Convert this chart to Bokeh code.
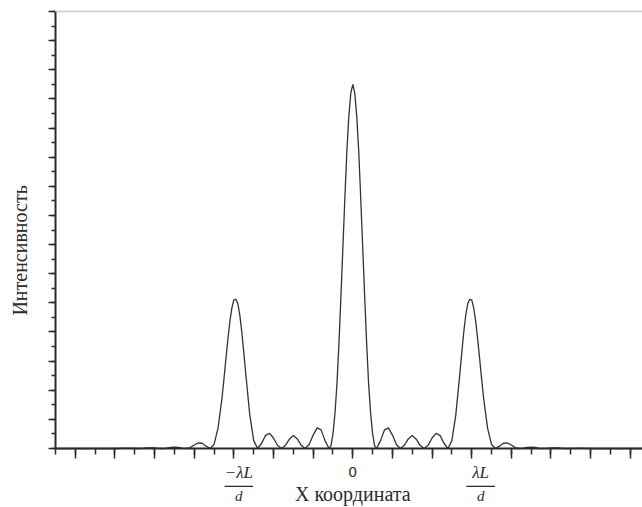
from bokeh.plotting import figure
from bokeh.models import (Range1d, SingleIntervalTicker, CustomJSTickFormatter,
                          Label, Arrow, ColumnDataSource)
from bokeh.embed import file_html
from bokeh.resources import INLINE
import math

# Intensity profile (x in units of lambda*L/(6d), y in y-axis major ticks)
x_coord = [-15.0, -12.0, -11.4, -10.8, -10.6, -10.4, -10.2, -10.0, -9.8, -9.6,
           -9.4, -9.2, -9.0, -8.8, -8.6, -8.4, -8.2, -8.0, -7.8, -7.6, -7.4,
           -7.2, -7.0, -6.8, -6.6, -6.5, -6.4, -6.3, -6.2, -6.1, -6.0, -5.9,
           -5.8, -5.7, -5.6, -5.5, -5.4, -5.2, -5.0, -4.8, -4.6, -4.4, -4.2,
           -4.0, -3.8, -3.6, -3.4, -3.2, -3.0, -2.8, -2.6, -2.4, -2.2, -2.0,
           -1.8, -1.6, -1.4, -1.2, -1.1, -1.0, -0.9, -0.8, -0.7, -0.6, -0.5,
           -0.4, -0.3, -0.2, -0.1, 0.0,
           0.1, 0.2, 0.3, 0.4, 0.5, 0.6, 0.7, 0.8, 0.9, 1.0, 1.1, 1.2, 1.4,
           1.6, 1.8, 2.0, 2.2, 2.4, 2.6, 2.8, 3.0, 3.2, 3.4, 3.6, 3.8, 4.0,
           4.2, 4.4, 4.6, 4.8, 5.0, 5.2, 5.4, 5.5, 5.6, 5.7, 5.8, 5.9, 6.0,
           6.1, 6.2, 6.3, 6.4, 6.5, 6.6, 6.8, 7.0, 7.2, 7.4, 7.6, 7.8, 8.0,
           8.2, 8.4, 8.6, 8.8, 9.0, 9.2, 9.4, 9.6, 9.8, 10.0, 10.2, 10.4,
           10.6, 10.8, 11.4, 12.0, 14.6]
intensity = [0.0, 0.0, 0.01, 0.0, 0.006, 0.02, 0.025, 0.02, 0.005, 0.0,
             0.01, 0.035, 0.045, 0.035, 0.01, 0.0, 0.03, 0.12, 0.19, 0.18, 0.08,
             0.0, 0.14, 0.7, 1.73, 2.39, 3.09, 3.76, 4.37, 4.83, 5.1, 5.12,
             4.97, 4.58, 4.0, 3.3, 2.56, 1.17, 0.27, 0.0, 0.18, 0.45, 0.52,
             0.36, 0.11, 0.0, 0.11, 0.32, 0.45, 0.33, 0.11, 0.0, 0.14, 0.46,
             0.71, 0.64, 0.27, 0.0, 0.1, 0.5, 1.2, 2.2, 3.6, 5.2, 6.9,
             8.6, 10.2, 11.4, 12.2, 12.5,
             12.2, 11.4, 10.2, 8.6, 6.9, 5.2, 3.6, 2.2, 1.2, 0.5, 0.1, 0.0, 0.27,
             0.64, 0.71, 0.46, 0.14, 0.0, 0.11, 0.33, 0.45, 0.32, 0.11, 0.0, 0.11, 0.36,
             0.52, 0.45, 0.18, 0.0, 0.27, 1.17, 2.56, 3.3, 4.0, 4.58, 4.97, 5.12, 5.1,
             4.83, 4.37, 3.76, 3.09, 2.39, 1.73, 0.7, 0.14, 0.0, 0.08, 0.18, 0.19, 0.12,
             0.03, 0.0, 0.01, 0.035, 0.045, 0.035, 0.01, 0.0, 0.005, 0.02, 0.025, 0.02,
             0.006, 0.0, 0.01, 0.0, 0.0]

x_label = "X координата"
y_label = "Интенсивность"
zero_label = "0"
frac_num_left = "−λL"
frac_num_right = "λL"
frac_den = "d"

# axis extents (data units)
x_min, x_max = -15.0, 14.62
y_min, y_max = 0.0, 15.0

ink = "#2b2b2b"
serif = "Liberation Serif"

# frame covers the whole canvas; axes are pinned inside it
p = figure(width=642, height=507, output_backend="svg", toolbar_location=None,
           x_range=Range1d(-17.775, 14.617), y_range=Range1d(-2.025, 15.378),
           min_border_left=0, min_border_right=0, min_border_top=0,
           min_border_bottom=0, background_fill_color="white",
           border_fill_color="white")
p.outline_line_color = None
p.xgrid.visible = False
p.ygrid.visible = False

src = ColumnDataSource(dict(x=x_coord, y=intensity))
p.line("x", "y", source=src, line_color="#333333", line_width=1.3)

# axes
p.xaxis.ticker = SingleIntervalTicker(interval=2, num_minor_ticks=2)
p.yaxis.ticker = SingleIntervalTicker(interval=1, num_minor_ticks=2)
p.xaxis.formatter = CustomJSTickFormatter(code="return Math.abs(tick) < 1e-9 ? '%s' : '';" % zero_label)
p.yaxis.formatter = CustomJSTickFormatter(code="return '';")
p.xaxis.fixed_location = y_min
p.yaxis.fixed_location = x_min
p.xaxis.bounds = (x_min, x_max)
p.yaxis.bounds = (y_min, y_max)
for ax in (p.xaxis[0], p.yaxis[0]):
    ax.axis_line_color = ink
    ax.axis_line_width = 2
    ax.major_tick_line_color = ink
    ax.minor_tick_line_color = ink
    ax.major_tick_line_width = 1.5
    ax.minor_tick_line_width = 1.5
    ax.major_tick_in = 0
    ax.minor_tick_in = 0
p.xaxis.major_tick_out = 10
p.xaxis.minor_tick_out = 6
p.yaxis.major_tick_out = 7
p.yaxis.minor_tick_out = 4
p.xaxis.major_label_text_font = "DejaVu Sans"
p.xaxis.major_label_text_font_size = "14px"
p.xaxis.major_label_text_color = ink
p.xaxis.major_label_standoff = 8

# top border (light grey)
p.add_layout(Arrow(start=None, end=None, x_start=x_min, x_end=x_max,
                   y_start=y_max, y_end=y_max, line_color="#c8c8c8", line_width=1.5))

# axis titles
p.add_layout(Label(x=-16.77, y=6.8, text=y_label, angle=math.pi / 2,
                   text_font=serif, text_font_size="20px", text_color=ink,
                   text_align="center", text_baseline="middle"))
p.add_layout(Label(x=0.0, y=-1.56, text=x_label, text_font=serif,
                   text_font_size="20px", text_color=ink,
                   text_align="center", text_baseline="middle"))

# fraction tick labels  -λL/d  and  λL/d
for cx, num in ((-5.75, frac_num_left), (6.45, frac_num_right)):
    p.add_layout(Label(x=cx, y=-0.83, text=num, text_font=serif,
                       text_font_style="italic", text_font_size="17px",
                       text_color=ink, text_align="center",
                       text_baseline="middle"))
    p.add_layout(Arrow(start=None, end=None, x_start=cx - 0.72, x_end=cx + 0.72,
                       y_start=-1.3, y_end=-1.3, line_color=ink, line_width=1.3))
    p.add_layout(Label(x=cx, y=-1.36, text=frac_den, text_font=serif,
                       text_font_style="italic", text_font_size="15px",
                       text_color=ink, text_align="center", text_baseline="top"))

open("out.html", "w").write(file_html(p, INLINE))
